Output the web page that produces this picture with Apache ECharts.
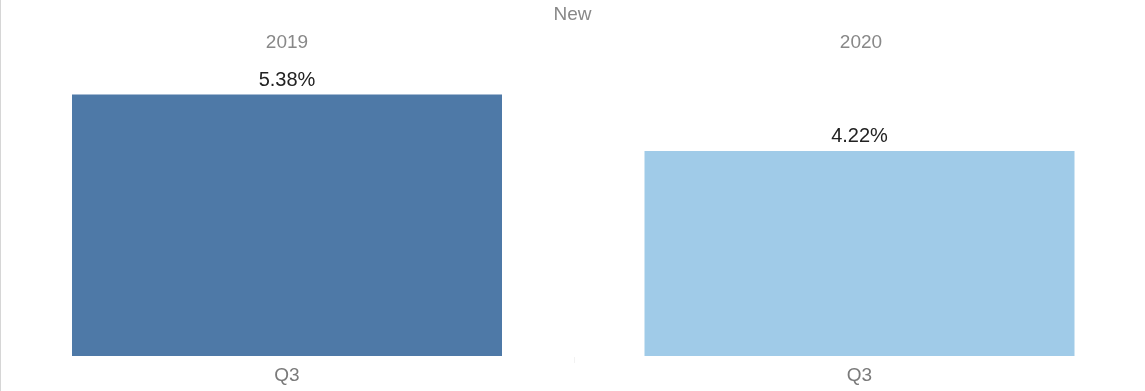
<!DOCTYPE html>
<html>
<head>
<meta charset="utf-8">
<script src="https://cdn.jsdelivr.net/npm/echarts@6/dist/echarts.min.js"></script>
<style>
  html, body { margin: 0; padding: 0; background: #fff; }
  #chart { width: 1145px; height: 391px; }
</style>
</head>
<body>
<div id="chart"></div>
<script>
// Quarterly share of "New", one panel per year
const panelTitle = 'New';
const years = ['2019', '2020'];
const quarters = ['Q3'];
const values2019 = [5.38];
const values2020 = [4.22];
const barColors = ['#4E79A7', '#A0CBE8'];

const seriesValues = [values2019, values2020];
const panelWidth = 574;
const fontFamily = '"Liberation Sans", Arial, sans-serif';

const grids = years.map((y, i) => ({
  left: i * panelWidth,
  width: panelWidth,
  top: 64.4,
  bottom: 35
}));

const xAxes = years.map((y, i) => ({
  type: 'category',
  gridIndex: i,
  data: quarters,
  axisLine: { show: false },
  axisTick: { show: false },
  axisLabel: { color: '#7a7a7a', fontSize: 19, fontFamily: fontFamily, margin: 10 }
}));

const yAxes = years.map((y, i) => ({
  type: 'value',
  gridIndex: i,
  min: 0,
  max: 6,
  show: false,
  splitLine: { show: false }
}));

const series = years.map((y, i) => ({
  type: 'bar',
  xAxisIndex: i,
  yAxisIndex: i,
  data: seriesValues[i],
  barWidth: 430,
  itemStyle: { color: barColors[i] },
  label: {
    show: true,
    position: 'top',
    distance: 4,
    color: '#222',
    fontSize: 20,
    fontFamily: fontFamily,
    formatter: p => p.value.toFixed(2) + '%'
  }
}));

const titles = [
  { text: panelTitle, left: 'center', top: 5, padding: 0,
    textStyle: { color: '#888', fontSize: 19, fontWeight: 'normal', fontFamily: fontFamily } }
].concat(years.map((y, i) => ({
  text: y,
  left: (i + 0.5) * panelWidth,
  textAlign: 'center',
  top: 33,
  padding: 0,
  textStyle: { color: '#888', fontSize: 19, fontWeight: 'normal', fontFamily: fontFamily }
})));

const chart = echarts.init(document.getElementById('chart'), null, { renderer: 'canvas' });
chart.setOption({
  animation: false,
  backgroundColor: '#fff',
  title: titles,
  grid: grids,
  xAxis: xAxes,
  yAxis: yAxes,
  series: series,
  graphic: [
    { type: 'rect', shape: { x: 0, y: 0, width: 1, height: 391 }, style: { fill: '#d6d6d6' } },
    { type: 'rect', shape: { x: 574, y: 357, width: 1, height: 6 }, style: { fill: '#f2f2f2' } }
  ]
});
</script>
</body>
</html>
